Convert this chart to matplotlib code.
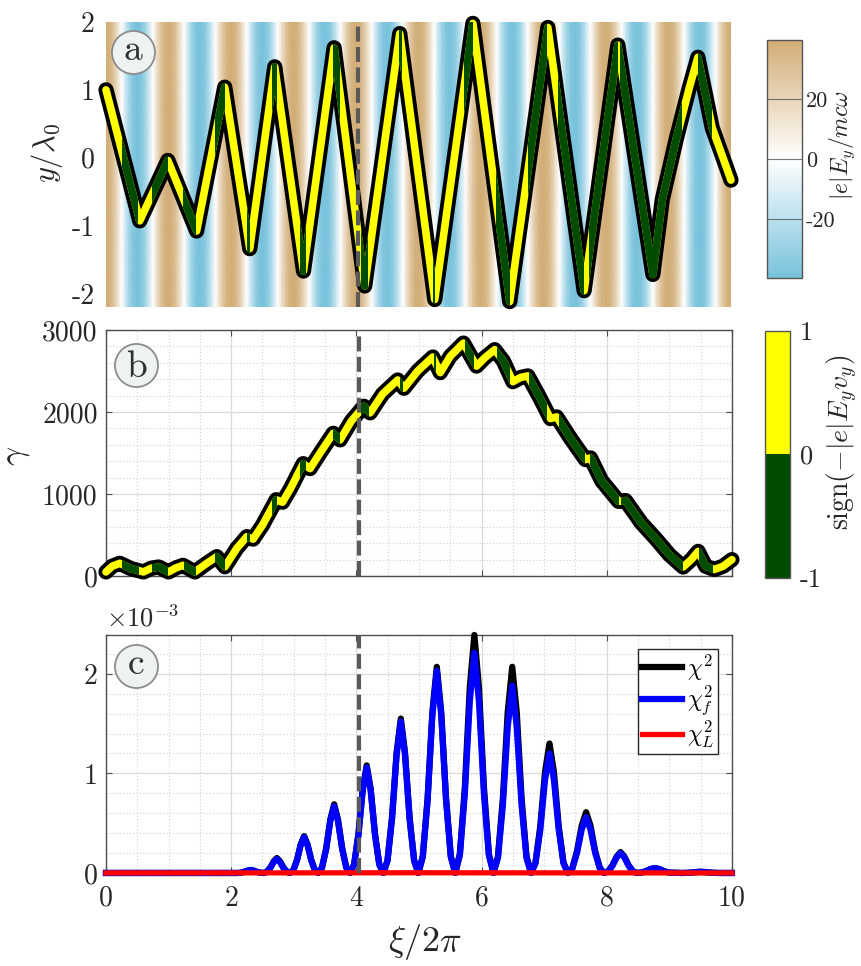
import numpy as np
import matplotlib
matplotlib.use("Agg")
import matplotlib.pyplot as plt
from matplotlib.colors import LinearSegmentedColormap, ListedColormap, Normalize
from matplotlib.cm import ScalarMappable
from matplotlib.path import Path
from matplotlib.ticker import MultipleLocator

plt.rcParams['font.family'] = 'cmr10'
plt.rcParams['mathtext.fontset'] = 'cm'
plt.rcParams['axes.unicode_minus'] = False
plt.rcParams['axes.formatter.use_mathtext'] = False

# --- data -------------------------------------------------------------
# transverse field over one laser period (16 samples), repeats along xi
field_period = [39.5, 36.5, 27.9, 15.1, 0.0, -15.1, -27.9, -36.5,
                -39.5, -36.5, -27.9, -15.1, 0.0, 15.1, 27.9, 36.5]
n_periods = 10

# electron trajectory y/lambda0 vs xi/2pi
xi_traj = [0.0, 0.54, 0.99, 1.45, 1.90, 2.30, 2.70, 3.16, 3.65, 4.14,
           4.70, 5.26, 5.87, 6.46, 7.07, 7.65, 8.19, 8.75, 8.90, 9.12,
           9.33, 9.47, 9.70, 10.0]
y_traj = [1.00, -0.93, -0.04, -1.08, 1.04, -1.34, 1.34, -1.67, 1.62, -1.89,
          1.83, -2.09, 1.98, -2.12, 1.92, -1.96, 1.66, -1.72, -0.62, 0.26,
          1.02, 1.48, 0.44, -0.33]

# Lorentz factor
xi_gamma = [0.00, 0.10, 0.22, 0.40, 0.60, 0.72, 0.84, 1.00, 1.12, 1.23,
            1.42, 1.61, 1.77, 1.90, 2.09, 2.25, 2.35, 2.50, 2.72, 2.82,
            2.95, 3.15, 3.26, 3.42, 3.63, 3.74, 3.92, 4.12, 4.22, 4.42,
            4.66, 4.76, 4.98, 5.22, 5.34, 5.50, 5.71, 5.92, 6.05, 6.21,
            6.35, 6.50, 6.62, 6.74, 6.92, 7.10, 7.20, 7.42, 7.66, 7.74,
            7.92, 8.19, 8.30, 8.55, 8.80, 9.00, 9.22, 9.35, 9.46, 9.58,
            9.72, 9.86, 10.0]
gamma = [50, 120, 155, 90, 50, 95, 110, 50, 100, 130,
         50, 155, 236, 113, 338, 480, 450, 620, 930, 900,
         1070, 1370, 1310, 1500, 1740, 1660, 1890, 2070, 1990, 2220,
         2390, 2290, 2500, 2670, 2480, 2680, 2840, 2560, 2660, 2760,
         2620, 2370, 2420, 2440, 2190, 1920, 1940, 1680, 1420, 1440,
         1160, 910, 920, 650, 440, 260, 110, 200, 300, 120,
         80, 120, 200]

# xi values where sign(-|e|E_y v_y) flips; positive at xi = 0
sign_flips = [0.25, 0.52, 0.73, 0.99, 1.24, 1.44, 1.74, 1.90, 2.25, 2.30,
              2.66, 2.73, 3.10, 3.20, 3.63, 3.74, 4.08, 4.20, 4.69, 4.74,
              5.24, 5.27, 5.73, 5.88, 6.24, 6.46, 6.75, 7.05, 7.23, 7.65,
              7.73, 8.19, 8.23, 9.22, 9.47, 9.70]

# quantum parameter (units of 1e-3)
xi_chi = [0.0,
          2.10, 2.15, 2.205, 2.26, 2.31, 2.36, 2.415, 2.47,
          2.52, 2.57, 2.625, 2.68, 2.73, 2.78, 2.835, 2.89,
          2.94, 2.994, 3.053, 3.111, 3.165, 3.219, 3.278, 3.336,
          3.39, 3.451, 3.518, 3.584, 3.645, 3.706, 3.773, 3.839,
          3.90, 3.964, 4.033, 4.101, 4.165, 4.229, 4.298, 4.366,
          4.43, 4.497, 4.57, 4.643, 4.71, 4.777, 4.85, 4.923,
          4.99, 5.061, 5.138, 5.214, 5.285, 5.356, 5.433, 5.509,
          5.58, 5.653, 5.733, 5.812, 5.885, 5.958, 6.038, 6.117,
          6.19, 6.262, 6.34, 6.418, 6.49, 6.562, 6.64, 6.718,
          6.79, 6.861, 6.938, 7.014, 7.085, 7.156, 7.233, 7.309,
          7.38, 7.45, 7.525, 7.60, 7.67, 7.74, 7.815, 7.89,
          7.96, 8.022, 8.09, 8.158, 8.22, 8.282, 8.35, 8.418,
          8.48, 8.55, 8.625, 8.70, 8.77, 8.84, 8.915, 8.99,
          9.20, 9.272, 9.35, 9.428, 9.50, 9.572, 9.65, 9.728,
          9.80, 10.0]
chi2 = [0,
        0, 0.002, 0.011, 0.023, 0.03, 0.023, 0.011, 0.002,
        0, 0.012, 0.054, 0.117, 0.15, 0.117, 0.054, 0.012,
        0, 0.030, 0.133, 0.289, 0.37, 0.289, 0.133, 0.030,
        0, 0.055, 0.248, 0.538, 0.69, 0.538, 0.248, 0.055,
        0, 0.086, 0.389, 0.842, 1.08, 0.842, 0.389, 0.086,
        0, 0.124, 0.558, 1.209, 1.55, 1.209, 0.558, 0.124,
        0, 0.166, 0.745, 1.615, 2.07, 1.615, 0.745, 0.166,
        0, 0.191, 0.860, 1.864, 2.39, 1.864, 0.860, 0.191,
        0, 0.166, 0.745, 1.615, 2.07, 1.615, 0.745, 0.166,
        0, 0.104, 0.468, 1.014, 1.30, 1.014, 0.468, 0.104,
        0, 0.049, 0.220, 0.476, 0.61, 0.476, 0.220, 0.049,
        0, 0.017, 0.076, 0.164, 0.21, 0.164, 0.076, 0.017,
        0, 0.004, 0.018, 0.039, 0.05, 0.039, 0.018, 0.004,
        0, 0.001, 0.004, 0.009, 0.012, 0.009, 0.004, 0.001,
        0, 0]
chi2_f = [0,
          0, 0.002, 0.011, 0.023, 0.03, 0.023, 0.011, 0.002,
          0, 0.011, 0.050, 0.109, 0.14, 0.109, 0.050, 0.011,
          0, 0.029, 0.130, 0.281, 0.36, 0.281, 0.130, 0.029,
          0, 0.054, 0.241, 0.523, 0.67, 0.523, 0.241, 0.054,
          0, 0.085, 0.382, 0.827, 1.06, 0.827, 0.382, 0.085,
          0, 0.122, 0.547, 1.186, 1.52, 1.186, 0.547, 0.122,
          0, 0.162, 0.731, 1.583, 2.03, 1.583, 0.731, 0.162,
          0, 0.177, 0.796, 1.724, 2.21, 1.724, 0.796, 0.177,
          0, 0.150, 0.677, 1.466, 1.88, 1.466, 0.677, 0.150,
          0, 0.096, 0.432, 0.936, 1.20, 0.936, 0.432, 0.096,
          0, 0.045, 0.202, 0.437, 0.56, 0.437, 0.202, 0.045,
          0, 0.016, 0.072, 0.156, 0.20, 0.156, 0.072, 0.016,
          0, 0.004, 0.018, 0.039, 0.05, 0.039, 0.018, 0.004,
          0, 0.001, 0.004, 0.009, 0.012, 0.009, 0.004, 0.001,
          0, 0]
xi_chiL = [0.0, 2.5, 5.0, 7.5, 10.0]
chi2_L = [0.0, 0.001, 0.002, 0.001, 0.0]

xi_mark = 4.04

# --- style ------------------------------------------------------------
GREEN = '#004c00'
YELLOW = '#ffff00'
TXT = '#262626'
field_cmap = LinearSegmentedColormap.from_list(
    'field', ['#78c2dc', '#ffffff', '#d2ad76'])
sign_cmap = ListedColormap([GREEN, YELLOW])


def green_clip(edges, lo, hi):
    # rectangles (data coords) over the intervals where the sign is negative
    parts = []
    for a, b in zip(edges[1::2], edges[2::2]):
        parts.append(Path([(a, lo), (b, lo), (b, hi), (a, hi), (a, lo)],
                          closed=True))
    return Path.make_compound_path(*parts)


def signed_line(ax, x, y, lo, hi):
    ax.plot(x, y, color='black', lw=11, solid_capstyle='round',
            solid_joinstyle='round', clip_on=False, zorder=3)
    ax.plot(x, y, color=YELLOW, lw=5.5, solid_capstyle='round',
            solid_joinstyle='round', clip_on=False, zorder=4)
    g, = ax.plot(x, y, color=GREEN, lw=5.5, solid_capstyle='butt',
                 solid_joinstyle='round', zorder=5)
    edges = [-1.0] + sign_flips + [11.0]
    g.set_clip_path(green_clip(edges, lo, hi), ax.transData)


def panel_label(ax, letter, x, y, dy):
    ax.plot([x], [y], 'o', transform=ax.transAxes, ms=31, mfc='#eef2f2',
            mec='#8c8c8c', mew=1.3, clip_on=False, zorder=10)
    ax.annotate(letter, (x, y), xycoords='axes fraction',
                xytext=(0, dy), textcoords='offset points',
                ha='center', va='baseline', fontsize=27, color='#303030',
                zorder=11)


def boxed(ax):
    for s in ax.spines.values():
        s.set_color('#4d4d4d')
        s.set_linewidth(1.0)
    ax.tick_params(which='major', direction='in', length=4, width=0.8,
                   top=True, right=True, color='#4d4d4d',
                   labelsize=20, labelcolor=TXT, pad=6)
    ax.tick_params(which='minor', length=0)
    ax.grid(which='major', color='#dadada', lw=0.9, ls='-')
    ax.grid(which='minor', color='#d0d0d0', lw=0.8, ls=(0, (1, 2)))
    ax.set_axisbelow(True)


fig = plt.figure(figsize=(8.61, 9.66), dpi=100)

# --- (a) trajectory over the field ------------------------------------
ax_a = fig.add_axes([0.1231, 0.6822, 0.7259, 0.2950])
field_row = np.append(np.tile(field_period, n_periods), field_period[0])
xi_field = np.linspace(0, n_periods, len(field_row))
ax_a.pcolormesh(xi_field, [-2.2, 2.0], np.vstack([field_row, field_row]),
                shading='gouraud', cmap=field_cmap, vmin=-39.5, vmax=39.5,
                zorder=1)
signed_line(ax_a, xi_traj, y_traj, -10, 10)
ax_a.axvline(xi_mark, color='#5a5a5a', lw=3, dashes=(3.6, 1.3), zorder=7)
ax_a.set_xlim(0, 10)
ax_a.set_ylim(-2.2, 2.0)
ax_a.set_yticks([-2, -1, 0, 1, 2])
ax_a.set_xticks([])
for s in ax_a.spines.values():
    s.set_visible(False)
ax_a.tick_params(length=0, labelsize=20, labelcolor=TXT, pad=8)
ax_a.set_ylabel(r'$y/\lambda_0$', fontsize=22, color=TXT)
ax_a.yaxis.set_label_coords(-0.066, 0.54)
panel_label(ax_a, 'a', 0.0432, 0.895, -6)

cax_a = fig.add_axes([0.8908, 0.7122, 0.0407, 0.2464])
cb_a = fig.colorbar(ScalarMappable(Normalize(-39.5, 39.5), field_cmap),
                    cax=cax_a, ticks=[-20, 0, 20])
cb_a.outline.set_edgecolor('#555555')
cb_a.outline.set_linewidth(1.0)
for v in (-20, 0, 20):
    cax_a.axhline(v, color='#555555', lw=0.8, alpha=0.8)
cax_a.tick_params(length=0, labelsize=16, labelcolor=TXT, pad=3)
cb_a.set_label(r'$|e|E_y/mc\omega$', fontsize=17, color=TXT, rotation=90)
cax_a.yaxis.set_label_coords(1.74, 0.56)

# --- (b) Lorentz factor ------------------------------------------------
ax_b = fig.add_axes([0.1231, 0.4037, 0.7270, 0.2547])
boxed(ax_b)
signed_line(ax_b, xi_gamma, gamma, -1e5, 1e5)
ax_b.axvline(xi_mark, color='#5a5a5a', lw=3, dashes=(3.6, 1.3), zorder=7)
ax_b.set_xlim(0, 10)
ax_b.set_ylim(0, 3000)
ax_b.set_xticks([0, 2, 4, 6, 8, 10])
ax_b.set_yticks([0, 1000, 2000, 3000])
ax_b.xaxis.set_minor_locator(MultipleLocator(0.5))
ax_b.yaxis.set_minor_locator(MultipleLocator(200))
ax_b.tick_params(labelbottom=False)
ax_b.set_ylabel(r'$\gamma$', fontsize=24, color=TXT)
ax_b.yaxis.set_label_coords(-0.118, 0.49)
panel_label(ax_b, 'b', 0.0487, 0.858, -9)

cax_b = fig.add_axes([0.8885, 0.4017, 0.0290, 0.2557])
cb_b = fig.colorbar(ScalarMappable(Normalize(-1, 1), sign_cmap),
                    cax=cax_b, ticks=[-1, 0, 1])
cb_b.outline.set_edgecolor('#555555')
cb_b.outline.set_linewidth(1.0)
cax_b.tick_params(length=0, labelsize=19, labelcolor=TXT, pad=7)
cb_b.set_label(r'$\mathrm{sign}(-|e|E_y v_y)$', fontsize=20, color=TXT,
               rotation=90)
cax_b.yaxis.set_label_coords(2.4, 0.55)

# --- (c) quantum parameter --------------------------------------------
ax_c = fig.add_axes([0.1231, 0.0963, 0.7270, 0.2464])
boxed(ax_c)
ax_c.plot(xi_chi, chi2, color='black', lw=4.5, label=r'$\chi^2$',
          clip_on=False, zorder=3)
ax_c.plot(xi_chi, chi2_f, color='#0000ff', lw=4.5, label=r'$\chi^2_f$',
          clip_on=False, zorder=4)
ax_c.plot(xi_chiL, chi2_L, color='#ff0000', lw=3.8, label=r'$\chi^2_L$',
          clip_on=False, zorder=5)
ax_c.axvline(xi_mark, color='#5a5a5a', lw=3, dashes=(3.6, 1.3), zorder=7)
ax_c.set_xlim(0, 10)
ax_c.set_ylim(0, 2.39)
ax_c.set_xticks([0, 2, 4, 6, 8, 10])
ax_c.set_yticks([0, 1, 2])
ax_c.xaxis.set_minor_locator(MultipleLocator(0.5))
ax_c.yaxis.set_minor_locator(MultipleLocator(0.2))
ax_c.tick_params(axis='x', pad=9)
ax_c.text(0.0, 1.015, r'$\times10^{-3}$', transform=ax_c.transAxes,
          fontsize=19, color=TXT, ha='left', va='bottom')
ax_c.set_xlabel(r'$\xi/2\pi$', fontsize=26, color=TXT)
ax_c.xaxis.set_label_coords(0.51, -0.205)
leg = ax_c.legend(loc='upper right', fontsize=17, handlelength=1.7,
                  handletextpad=0.2, labelspacing=0.05, borderpad=0.15,
                  borderaxespad=0.6, fancybox=False, framealpha=1)
leg.get_frame().set_edgecolor('#262626')
leg.get_frame().set_linewidth(1.0)
leg.set_zorder(12)
panel_label(ax_c, 'c', 0.0487, 0.870, -6)

fig.savefig('out.png', dpi=100)
